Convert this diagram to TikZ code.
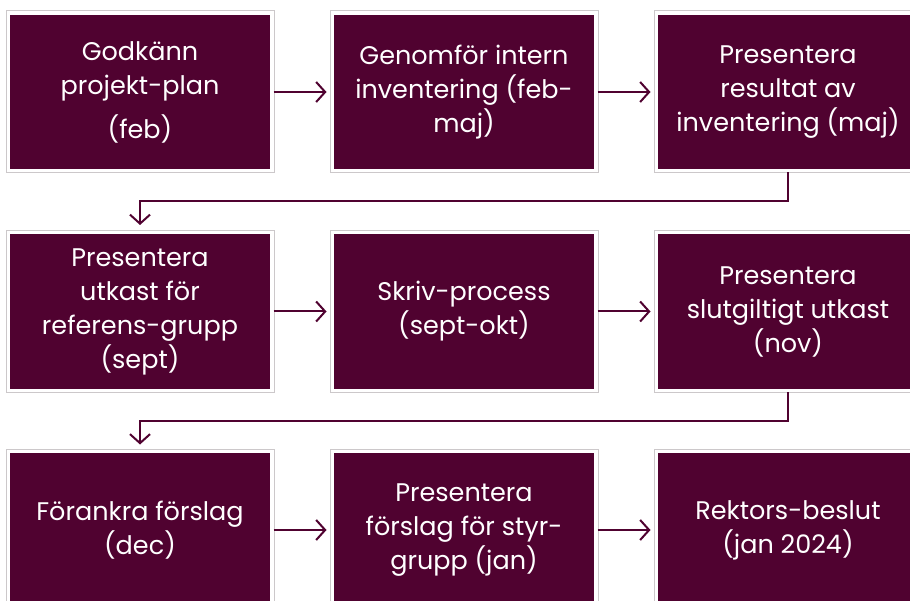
\documentclass[tikz,border=0pt]{standalone}
\usepackage{fontspec}
\setmainfont{Poppins}
\usetikzlibrary{arrows.meta}
\definecolor{purp}{HTML}{500230}
\definecolor{edge}{HTML}{CCC8CA}
\begin{document}
\begin{tikzpicture}[x=1pt,y=-1pt,
  box/.style={minimum width=263.5pt, minimum height=157.5pt, fill=purp, draw=white,
    line width=3.5pt, preaction={draw=edge, line width=5.5pt}, text=white,
    font=\fontsize{25.5}{34}\selectfont, align=center, inner sep=0pt},
  arr/.style={draw=purp, line width=2pt, -{Straight Barb[length=9pt,width=20pt,line width=2pt]}}]
\useasboundingbox (0,0) rectangle (910,601);
\clip (0,0) rectangle (910,601);
\fill[white] (0,0) rectangle (910,601);
\node[box] (b1) at (140,92) {Godkänn\\projekt-plan\\[10pt](feb)};
\node[box] (b2) at (464,92) {Genomför intern\\inventering (feb-\\maj)};
\node[box] (b3) at (788,92) {Presentera\\resultat av\\inventering (maj)};
\node[box] (b4) at (140,311.5) {Presentera\\utkast för\\referens-grupp\\(sept)};
\node[box] (b5) at (464,311.5) {Skriv-process\\(sept-okt)};
\node[box] (b6) at (788,311.5) {Presentera\\slutgiltigt utkast\\(nov)};
\node[box] (b7) at (140,530) {Förankra förslag\\(dec)};
\node[box] (b8) at (464,530) {Presentera\\förslag för styr-\\grupp (jan)};
\node[box] (b9) at (788,530) {Rektors-beslut\\(jan 2024)};
\coordinate (m1) at (788,201);
\coordinate (m2) at (788,421);
\draw[arr, shorten >=4pt] (b1) -- (b2);
\draw[arr, shorten >=4pt] (b2) -- (b3);
\draw[arr, shorten >=4pt] (b4) -- (b5);
\draw[arr, shorten >=4pt] (b5) -- (b6);
\draw[arr, shorten >=4pt] (b7) -- (b8);
\draw[arr, shorten >=4pt] (b8) -- (b9);
\draw[arr, shorten >=6pt] (b3.south) -- (m1) -| (b4.north);
\draw[arr, shorten >=5pt] (b6.south) -- (m2) -| (b7.north);
\end{tikzpicture}
\end{document}
